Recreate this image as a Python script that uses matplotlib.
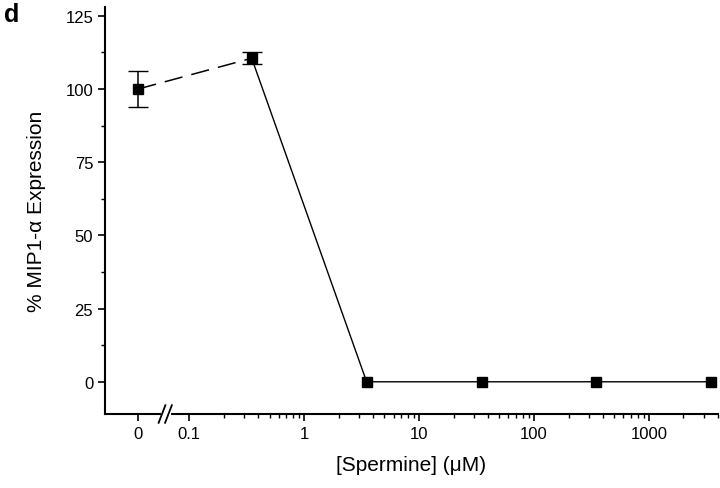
import matplotlib
matplotlib.use("Agg")
import matplotlib.pyplot as plt
from matplotlib.ticker import FixedLocator, NullFormatter

plt.rcParams["font.family"] = "Liberation Sans"

conc = [0.35, 3.5, 35, 350, 3500]
expr = [110.5, 0, 0, 0, 0]
err = [2, 0, 0, 0, 0]
zero_expr = 100
zero_err = 6
zero_pos = 0.036
xticklabels = ["0", "0.1", "1", "10", "100", "1000"]
xtickpos = [zero_pos, 0.1, 1, 10, 100, 1000]

fig = plt.figure(figsize=(7.2, 4.89), dpi=100)
ax = fig.add_axes([105/720, 1-415/489, 613/720, 407/489])
ax.set_xscale("log")
ax.set_xlim(0.0185, 4000)
ax.set_ylim(-11, 128)

ax.plot([zero_pos, conc[0]], [zero_expr, expr[0]], color="black", lw=1.1, dashes=(12, 6))
ax.errorbar([zero_pos], [zero_expr], yerr=[zero_err], fmt="s", color="black", ms=6.5, capsize=7, lw=1.1)
ax.plot(conc, expr, "s-", color="black", ms=6.5, lw=1.0)
ec = [c for c, e in zip(conc, err) if e > 0]
ev = [v for v, e in zip(expr, err) if e > 0]
ee = [e for e in err if e > 0]
ax.errorbar(ec, ev, yerr=ee, fmt="none", ecolor="black", capsize=7, lw=1.1)

for s in ["top", "right"]:
    ax.spines[s].set_visible(False)
ax.spines["left"].set_linewidth(1.5)
ax.spines["bottom"].set_linewidth(1.5)

ax.set_xticks(xtickpos)
ax.set_xticklabels(xticklabels)
minors = [m * 10**e for e in range(-1, 4) for m in range(2, 10)]
ax.xaxis.set_minor_locator(FixedLocator(minors))
ax.xaxis.set_minor_formatter(NullFormatter())
ax.set_yticks([0, 25, 50, 75, 100, 125])
ax.yaxis.set_minor_locator(FixedLocator([12.5, 37.5, 62.5, 87.5, 112.5]))
ax.tick_params(axis="both", which="major", direction="out", length=5, width=1.2, labelsize=12)
ax.tick_params(axis="both", which="minor", direction="out", length=3, width=1)

bx = [0.058, 0.066]
ax.plot([0.059, 0.067], [-11, -11], color="white", lw=3, clip_on=False, zorder=5)
for b in bx:
    ax.plot([b / 1.07, b * 1.07], [-14, -8], color="black", lw=1.3, clip_on=False, zorder=6)

ax.set_xlabel("[Spermine] (\u03bcM)", fontsize=15, labelpad=10)
ax.set_ylabel("% MIP1-\u03b1 Expression", fontsize=15, labelpad=14)
fig.text(4/720, 1-22/489, "d", fontsize=18, fontweight="bold")

fig.savefig("out.png", dpi=100)
